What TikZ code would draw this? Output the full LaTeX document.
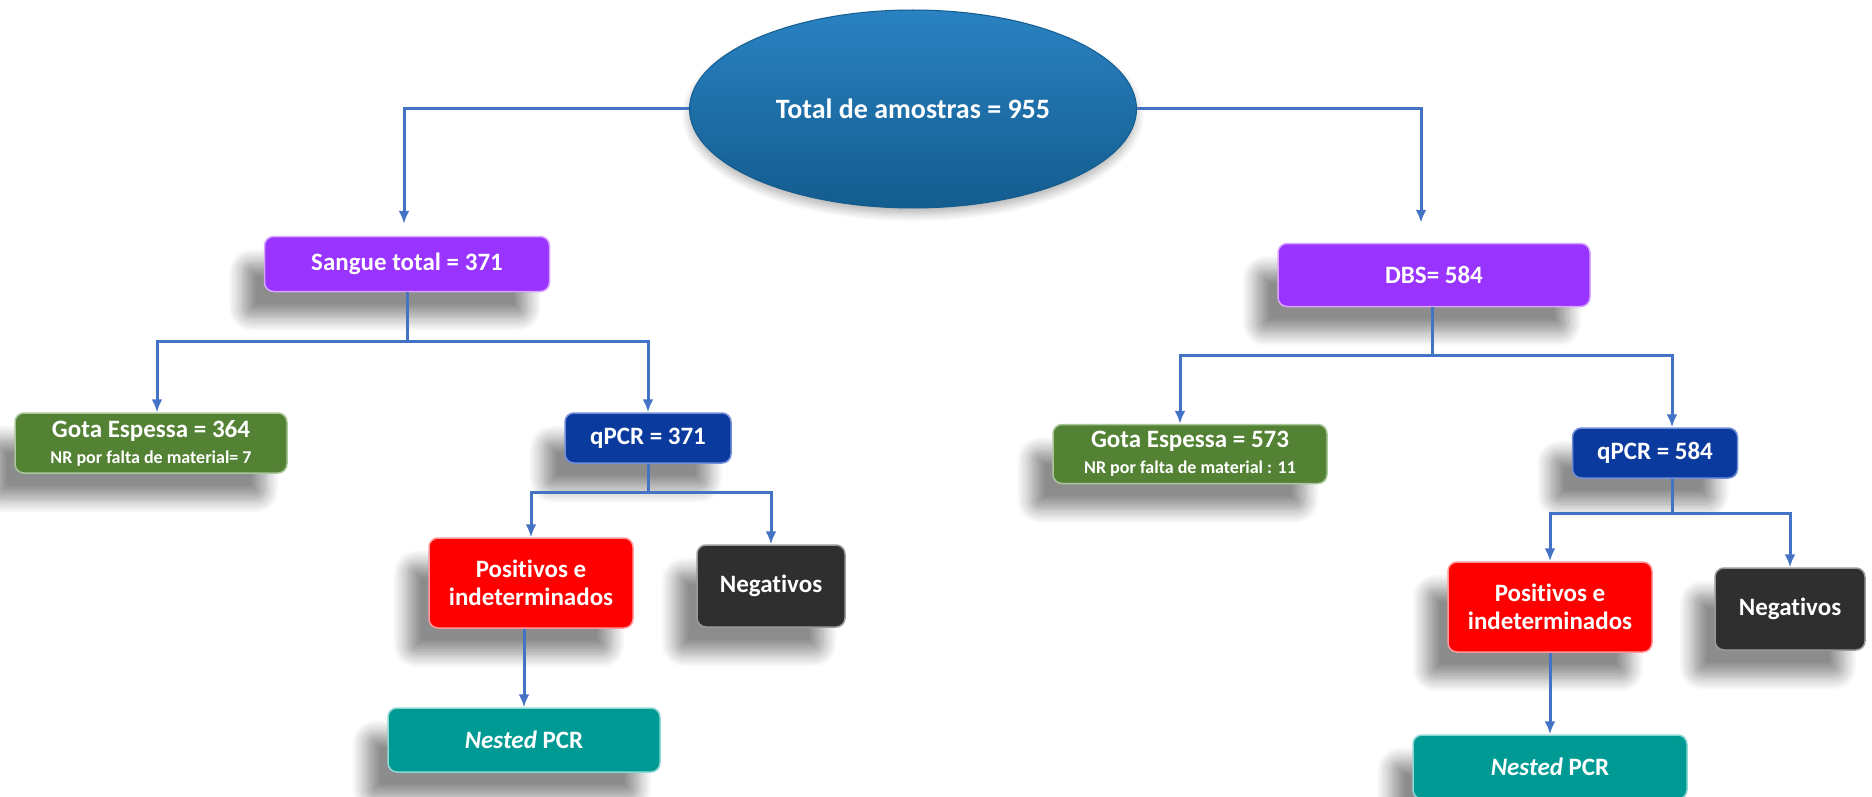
\documentclass[tikz,border=0pt]{standalone}
\usepackage{fontspec}
\setmainfont{Carlito}[Ligatures={NoCommon}]
\usetikzlibrary{shapes.geometric,arrows.meta,shadows.blur}
\definecolor{conn}{HTML}{4472C4}
\definecolor{ellT}{HTML}{2A82C2}
\definecolor{ellB}{HTML}{135C8E}
\definecolor{purp}{HTML}{9933FF}
\definecolor{purpL}{HTML}{D9A6FF}
\definecolor{grn}{HTML}{548235}
\definecolor{grnL}{HTML}{A9C79A}
\definecolor{dblue}{HTML}{0B3A9E}
\definecolor{dblueL}{HTML}{6F8FD6}
\definecolor{rd}{HTML}{FF0000}
\definecolor{rdL}{HTML}{FF9A9A}
\definecolor{blk}{HTML}{2F2F2F}
\definecolor{blkL}{HTML}{9A9A9A}
\definecolor{teal}{HTML}{009A94}
\definecolor{tealL}{HTML}{8FD8D4}
\begin{document}
\begin{tikzpicture}[x=1pt,y=-1pt,
  boxshadow/.style={blur shadow={shadow xshift=-22pt,shadow yshift=-26pt,shadow blur steps=12,shadow blur radius=14pt,shadow opacity=45}},
  box/.style={rectangle,rounded corners=9pt,line width=1.5pt,inner sep=0pt,align=center,text=white,
    font=\bfseries\fontsize{25}{28}\selectfont,boxshadow},
  line/.style={draw=conn,line width=3pt},
  arr/.style={line,-{Latex[length=13pt,width=11pt]}}]
\useasboundingbox (0,0) rectangle (1872,797);

% top ellipse
\node[ellipse,minimum width=447pt,minimum height=198pt,top color=ellT,bottom color=ellB,draw=ellB,line width=1pt,
  text=white,font=\bfseries\fontsize{28}{32}\selectfont,
  blur shadow={shadow xshift=0pt,shadow yshift=-6pt,shadow blur steps=8,shadow blur radius=8pt,shadow opacity=30}]
  (tot) at (913,109) {Total de amostras = 955};

% second level
\node[box,fill=purp,draw=purpL,minimum width=285pt,minimum height=55pt] (sangue) at (407,264) {Sangue total = 371};
\node[box,fill=purp,draw=purpL,minimum width=312pt,minimum height=63pt] (dbs) at (1434,275) {DBS= 584};

% third level left
\node[box,fill=grn,draw=grnL,minimum width=272pt,minimum height=60pt] (gota1) at (151,443)
  {Gota Espessa = 364\\[-2pt]{\fontsize{18}{20}\selectfont NR por falta de material= 7}};
\node[box,fill=dblue,draw=dblueL,minimum width=166pt,minimum height=50pt] (qpcr1) at (648,438) {qPCR = 371};

% third level right
\node[box,fill=grn,draw=grnL,minimum width=274pt,minimum height=59pt] (gota2) at (1190,454)
  {Gota Espessa = 573\\[-2pt]{\fontsize{18}{20}\selectfont NR por falta de material : 11}};
\node[box,fill=dblue,draw=dblueL,minimum width=165pt,minimum height=50pt] (qpcr2) at (1655,453) {qPCR = 584};

% fourth level
\node[box,fill=rd,draw=rdL,minimum width=204pt,minimum height=90pt] (pos1) at (531,583) {Positivos e\\indeterminados};
\node[box,fill=blk,draw=blkL,minimum width=148pt,minimum height=82pt] (neg1) at (771,586) {Negativos};
\node[box,fill=rd,draw=rdL,minimum width=204pt,minimum height=90pt] (pos2) at (1550,607) {Positivos e\\indeterminados};
\node[box,fill=blk,draw=blkL,minimum width=150pt,minimum height=82pt] (neg2) at (1790,609) {Negativos};

% fifth level
\node[box,fill=teal,draw=tealL,minimum width=272pt,minimum height=64pt] (nest1) at (524,740) {\textit{Nested} PCR};
\node[box,fill=teal,draw=tealL,minimum width=274pt,minimum height=64pt] (nest2) at (1550,767) {\textit{Nested} PCR};

% junctions
\coordinate (j1) at (407,341);
\coordinate (j2) at (648,492);
\coordinate (j3) at (1432,355);
\coordinate (j4) at (1672,513);

% connectors
\draw[arr,shorten >=12pt] (tot.west) -| ([xshift=-3pt]sangue.north);
\draw[arr,shorten >=20pt] (tot.east) -| ([xshift=-13pt]dbs.north);

\draw[line] (sangue.south) -- (j1);
\draw[arr] (j1) -| ([xshift=6pt]gota1.north);
\draw[arr] (j1) -| (qpcr1.north);

\draw[line] (qpcr1.south) -- (j2);
\draw[arr] (j2) -| (pos1.north);
\draw[arr] (j2) -| (neg1.north);
\draw[arr] (nest1.north |- pos1.south) -- (nest1.north);

\draw[line] (dbs.south -| j3) -- (j3);
\draw[arr] (j3) -| ([xshift=-10pt]gota2.north);
\draw[arr] (j3) -| ([xshift=17pt]qpcr2.north);

\draw[line] ([xshift=17pt]qpcr2.south) -- (j4);
\draw[arr] (j4) -| (pos2.north);
\draw[arr] (j4) -| (neg2.north);
\draw[arr] (pos2.south) -- (nest2.north);
\end{tikzpicture}
\end{document}
